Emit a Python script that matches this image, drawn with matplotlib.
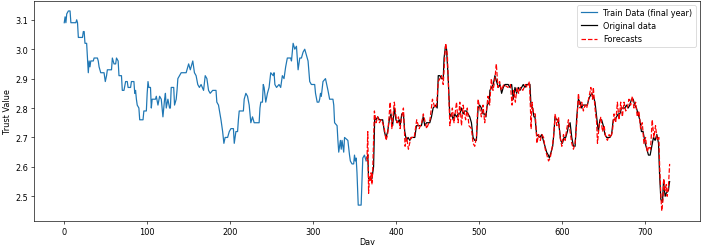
import numpy as np
import matplotlib.pyplot as plt

# train data (final year), vertices
train_day = [0, 1, 2, 3, 5, 7, 8, 14, 15, 16, 17, 22, 23, 24, 25, 27, 29, 30, 31, 32, 35, 36, 40, 41, 42, 44, 48,
             49.5, 51, 52, 57, 58, 60, 62, 63, 65, 66, 69, 70, 72, 74, 76, 77, 80, 81, 84, 85, 86, 87, 88, 90, 91,
             95, 96, 99, 100, 101, 102, 104, 105, 106, 110, 111, 113, 115, 117, 119, 121, 122, 123, 125, 127, 128,
             129, 132, 133, 135, 136, 137, 139, 141, 147, 149, 150, 152, 154, 155, 157, 159, 161, 163, 165, 168,
             170, 172, 174, 176, 179, 183, 184, 186, 189, 191, 192.5, 194, 197, 199, 201, 204, 205, 207, 209, 210,
             211, 216, 217, 219, 221, 223, 225, 227, 229, 235, 236, 237, 239, 240, 241, 243, 245, 247, 249, 252,
             253, 254, 256, 259, 261, 263, 265, 267, 269, 273, 274, 276, 278, 280, 282, 284, 286, 288, 290, 292,
             294, 296, 298, 302, 303, 305, 307, 308, 309, 310, 312, 315, 318, 320, 324, 325, 326, 329, 330, 331,
             333, 334, 335, 337, 338, 342, 344, 345, 347, 349, 350, 351, 352, 353, 354.5, 358, 360, 362, 364]
train_val = [3.09, 3.11, 3.09, 3.12, 3.13, 3.13, 3.09, 3.09, 3.10, 3.09, 3.04, 3.04, 3.06, 3.06, 3.02, 3.02, 2.92,
             2.96, 2.94, 2.96, 2.96, 2.97, 2.97, 2.96, 2.94, 2.92, 2.92, 2.89, 2.91, 2.93, 2.93, 2.97, 2.95, 2.95,
             2.97, 2.96, 2.91, 2.91, 2.86, 2.86, 2.89, 2.89, 2.87, 2.87, 2.89, 2.89, 2.85, 2.86, 2.83, 2.81, 2.80,
             2.76, 2.76, 2.79, 2.79, 2.85, 2.89, 2.87, 2.87, 2.80, 2.83, 2.83, 2.84, 2.81, 2.84, 2.83, 2.77, 2.83,
             2.85, 2.80, 2.83, 2.80, 2.80, 2.87, 2.87, 2.81, 2.83, 2.86, 2.90, 2.91, 2.92, 2.92, 2.94, 2.95, 2.93,
             2.95, 2.96, 2.92, 2.91, 2.88, 2.87, 2.88, 2.86, 2.91, 2.90, 2.86, 2.85, 2.86, 2.86, 2.82, 2.81, 2.76,
             2.72, 2.68, 2.70, 2.70, 2.72, 2.73, 2.73, 2.68, 2.72, 2.72, 2.76, 2.79, 2.79, 2.83, 2.85, 2.84, 2.81,
             2.75, 2.77, 2.75, 2.75, 2.80, 2.82, 2.82, 2.88, 2.87, 2.82, 2.85, 2.87, 2.92, 2.91, 2.92, 2.88, 2.87,
             2.88, 2.87, 2.91, 2.90, 2.94, 2.97, 2.97, 2.96, 3.02, 3.00, 3.01, 2.93, 2.97, 2.97, 2.99, 3.00, 2.98,
             2.96, 2.89, 2.88, 2.88, 2.85, 2.82, 2.82, 2.83, 2.85, 2.84, 2.89, 2.90, 2.86, 2.83, 2.83, 2.81, 2.75,
             2.74, 2.69, 2.65, 2.69, 2.66, 2.69, 2.65, 2.70, 2.69, 2.64, 2.62, 2.61, 2.61, 2.64, 2.62, 2.63, 2.58,
             2.47, 2.47, 2.63, 2.64, 2.62]

# original data for the test year
orig_day = [365, 366, 367, 371, 373, 374.4, 376, 378, 380, 384, 386, 388, 390, 392, 394, 396, 398, 400, 402, 404,
            405, 407, 409, 410.6, 412.6, 414.6, 416.7, 418.7, 422.7, 424.7, 430.7, 432.8, 434.8, 436.8, 440.8,
            442.8, 444.8, 448, 449.7, 451, 453, 455, 457, 458, 459.7, 461, 463, 465, 467, 469, 471, 473, 475, 477,
            479, 481, 483, 485, 487, 489, 491, 493, 495, 497, 499, 501, 503, 505, 507, 508.5, 510, 512.5, 513.3,
            515.3, 517.3, 519.3, 521.3, 523.4, 525.4, 527.4, 529.4, 531.4, 535.4, 537.4, 539.5, 541.5, 543.5,
            545.5, 547.5, 549.5, 551.5, 553.5, 555.5, 557.6, 561.6, 562.8, 564.8, 566.4, 567.6, 569.6, 573.7,
            575.7, 577.7, 579.7, 581.7, 583.7, 585, 587, 589, 590.6, 591.8, 593.8, 595.8, 597, 598.6, 600.7,
            602.7, 604.7, 606.7, 608, 610, 612, 614, 616, 618, 620, 622, 624, 625.2, 630.8, 632.5, 634, 636, 638,
            640, 642, 644, 646, 648, 650, 652, 654, 658, 660, 662, 664, 666, 668, 670, 672, 676, 678, 680, 682,
            684, 686, 688, 690, 692, 694, 696, 698, 700.5, 702.5, 704.5, 706.5, 708.5, 710.5, 712.5, 714.6,
            716.6, 717.8, 719.4, 721.4, 722.6, 724.6, 725.8, 728.6, 729.4, 730]
orig_val = [2.63, 2.64, 2.56, 2.56, 2.60, 2.77, 2.76, 2.77, 2.76, 2.76, 2.72, 2.70, 2.72, 2.76, 2.78, 2.74, 2.80,
            2.76, 2.75, 2.76, 2.74, 2.78, 2.78, 2.72, 2.69, 2.70, 2.69, 2.70, 2.70, 2.74, 2.74, 2.77, 2.74, 2.75,
            2.75, 2.77, 2.80, 2.81, 2.80, 2.91, 2.91, 2.90, 2.90, 2.97, 3.01, 3.00, 2.90, 2.77, 2.78, 2.76, 2.78,
            2.77, 2.78, 2.78, 2.80, 2.78, 2.79, 2.79, 2.78, 2.77, 2.75, 2.70, 2.69, 2.69, 2.80, 2.81, 2.80, 2.78,
            2.78, 2.77, 2.81, 2.82, 2.86, 2.87, 2.88, 2.91, 2.89, 2.87, 2.88, 2.85, 2.87, 2.88, 2.88, 2.87, 2.88,
            2.83, 2.87, 2.85, 2.87, 2.86, 2.87, 2.88, 2.87, 2.88, 2.88, 2.81, 2.80, 2.77, 2.77, 2.71, 2.70, 2.71,
            2.69, 2.67, 2.65, 2.64, 2.63, 2.65, 2.67, 2.72, 2.77, 2.76, 2.76, 2.73, 2.69, 2.68, 2.70, 2.70, 2.72,
            2.74, 2.75, 2.70, 2.67, 2.67, 2.77, 2.83, 2.82, 2.80, 2.81, 2.81, 2.83, 2.84, 2.85, 2.84, 2.82, 2.77,
            2.72, 2.76, 2.76, 2.74, 2.71, 2.70, 2.70, 2.71, 2.76, 2.76, 2.77, 2.78, 2.78, 2.80, 2.80, 2.81, 2.80,
            2.81, 2.83, 2.83, 2.81, 2.80, 2.78, 2.76, 2.72, 2.72, 2.68, 2.66, 2.64, 2.64, 2.67, 2.70, 2.69, 2.71,
            2.68, 2.58, 2.49, 2.48, 2.55, 2.50, 2.51, 2.52, 2.54, 2.55]

# forecasts
fc_day = [365, 366, 367, 368, 369, 370, 371, 372, 374, 376, 378, 380, 382, 384, 386, 388, 390, 393, 395, 398, 401,
          403, 405, 407, 409, 411, 413, 415, 418, 422, 425, 428, 431, 433, 437, 441, 444, 447, 449, 451, 455, 457,
          459, 460, 462, 465, 468, 470, 473, 475, 477, 479, 481, 484, 486, 488, 491, 493, 495, 497, 499, 501, 503,
          505, 507, 509, 511, 513, 515, 517, 519, 521, 523, 525, 527, 530, 535, 538, 540, 542, 544, 546, 548, 550,
          553, 556, 558, 561, 563, 564, 566, 568, 570, 572, 574, 576, 578, 580, 582, 584, 586, 588, 590, 592, 594,
          596, 598, 600, 602, 604, 606, 608, 610, 612, 614, 616, 618, 620, 622, 624, 626, 628, 630, 633, 635, 637,
          638, 640, 642, 643, 645, 647, 649, 651, 653, 655, 657, 659, 661, 663, 665, 667, 669, 671, 673, 675, 677,
          679, 681, 683, 685, 687, 689, 691, 693, 695, 697, 699, 701, 703, 705, 707, 709, 711, 713, 715, 717, 718,
          719.5, 720.5, 722, 723, 724.5, 726, 727, 728.5, 730]
fc_val = [2.62, 2.72, 2.51, 2.57, 2.55, 2.58, 2.54, 2.59, 2.79, 2.75, 2.77, 2.75, 2.76, 2.75, 2.73, 2.69, 2.71,
          2.82, 2.73, 2.82, 2.75, 2.77, 2.73, 2.77, 2.80, 2.67, 2.70, 2.66, 2.70, 2.70, 2.76, 2.73, 2.75, 2.78, 2.73,
          2.76, 2.83, 2.80, 2.81, 2.89, 2.91, 2.88, 2.98, 3.02, 2.98, 2.74, 2.80, 2.75, 2.82, 2.75, 2.82, 2.74, 2.81,
          2.76, 2.80, 2.74, 2.73, 2.68, 2.67, 2.70, 2.83, 2.80, 2.77, 2.81, 2.75, 2.79, 2.84, 2.81, 2.90, 2.86,
          2.89, 2.95, 2.87, 2.89, 2.86, 2.88, 2.87, 2.88, 2.81, 2.86, 2.82, 2.87, 2.85, 2.87, 2.86, 2.88, 2.87,
          2.89, 2.73, 2.82, 2.78, 2.78, 2.68, 2.71, 2.69, 2.71, 2.70, 2.66, 2.64, 2.62, 2.63, 2.66, 2.70, 2.78,
          2.74, 2.77, 2.70, 2.67, 2.71, 2.69, 2.73, 2.76, 2.72, 2.68, 2.66, 2.68, 2.75, 2.85, 2.80, 2.82, 2.79,
          2.81, 2.80, 2.84, 2.87, 2.83, 2.87, 2.80, 2.75, 2.68, 2.74, 2.77, 2.72, 2.74, 2.70, 2.69, 2.71, 2.70,
          2.72, 2.78, 2.75, 2.82, 2.76, 2.82, 2.77, 2.82, 2.79, 2.80, 2.83, 2.81, 2.84, 2.80, 2.82, 2.77, 2.79,
          2.73, 2.75, 2.68, 2.70, 2.65, 2.67, 2.66, 2.76, 2.70, 2.74, 2.69, 2.70, 2.60, 2.50, 2.45, 2.49, 2.56,
          2.52, 2.54, 2.50, 2.53, 2.61]

# 12x4.2 inch canvas at low dpi -> 702x246 px
fig = plt.figure(figsize=(12, 4.205), dpi=58.5)
ax = fig.add_axes([0.0484, 0.0976, 0.9486, 0.8945])

ax.plot(train_day, train_val, label='Train Data (final year)')
ax.plot(orig_day, orig_val, color='black', label='Original data')
ax.plot(fc_day, fc_val, '--', color='red', label='Forecasts')

ax.set_xlabel('Day', labelpad=1.5)
ax.set_ylabel('Trust Value')
ax.set_xticks(np.arange(0, 701, 100))
ax.set_yticks([2.5, 2.6, 2.7, 2.8, 2.9, 3.0, 3.1])
ax.legend(loc='upper right')

fig.savefig('out.png', dpi=58.5)
